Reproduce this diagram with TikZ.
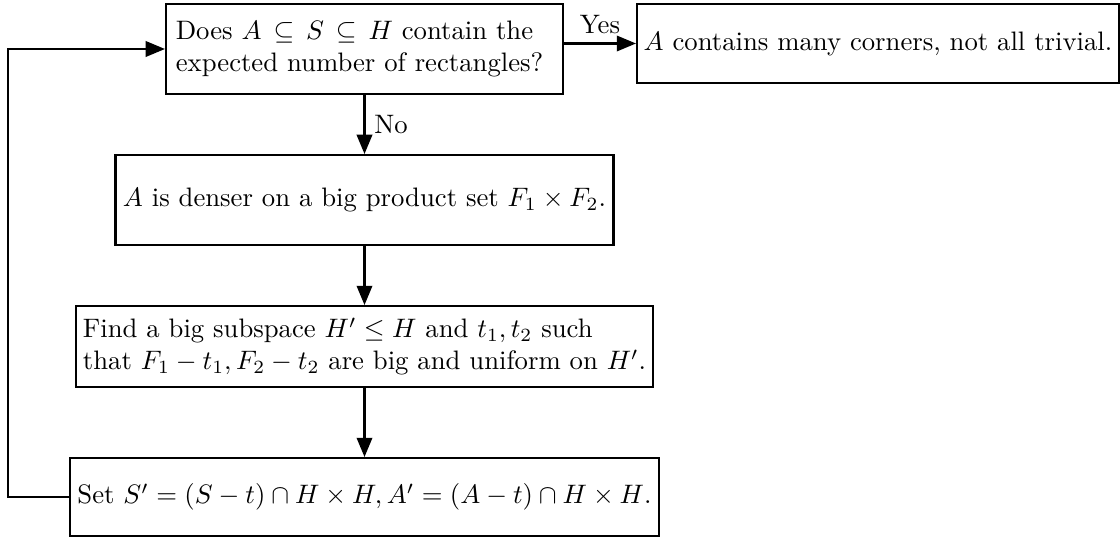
\documentclass[tikz,border=0pt]{standalone}
\usetikzlibrary{arrows.meta}
\begin{document}
\begin{tikzpicture}[x=0.3745pt,y=-0.3745pt,
  box/.style={draw,line width=0.77pt,rectangle,inner sep=2pt},
  flow/.style={line width=0.77pt,-{Triangle[length=7.2pt,width=5.8pt]}}]
\useasboundingbox (0,0) rectangle (1120,537);
\node[box,minimum width=148.7pt,minimum height=33.7pt,inner xsep=3.7pt,text width=141.3pt,align=left] (q) at (364.5,49)
  {Does $A\mathrel{\mkern3mu\subseteq\mkern3mu}S\mathrel{\mkern3mu\subseteq\mkern3mu}H$ contain the\\expected number of rectangles?};
\node[box,minimum width=180.5pt,minimum height=29.5pt] (yes) at (878,43.5)
  {$A$ contains many corners, not all trivial.};
\node[box,minimum width=186.5pt,minimum height=33.7pt] (b2) at (364.5,200)
  {$A$ is denser on a big product set $F_1\times F_2$.};
\node[box,minimum width=215.8pt,minimum height=30.3pt,align=left] (b3) at (364.5,346.5)
  {Find a big subspace $H'\le H$ and $t_1,t_2$ such\\that $F_1-t_1,F_2-t_2$ are big and uniform on $H'$.};
\node[box,minimum width=220.6pt,minimum height=29.2pt] (b4) at (364.5,497)
  {Set $S'=(S-t)\cap H\times H, A'=(A-t)\cap H\times H$.};
\coordinate (c1) at (8,497);
\coordinate (c2) at (8,49);
\draw[flow] (yes.west -| q.east) -- node[above] {Yes} (yes.west);
\draw[flow] (q) -- node[right] {No} (b2);
\draw[flow] (b2) -- (b3);
\draw[flow] (b3) -- (b4);
\draw[flow] (b4.west) -- (c1) -- (c2) -- (q.west);
\end{tikzpicture}
\end{document}
